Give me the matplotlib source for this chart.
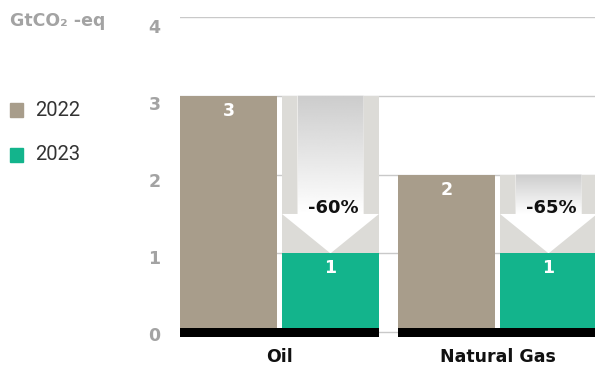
import numpy as np
import matplotlib.pyplot as plt
from matplotlib.patches import Polygon, Rectangle
from matplotlib.transforms import ScaledTranslation

plt.rcParams['font.family'] = ['DejaVu Sans']

categories = ['Oil', 'Natural Gas']
years = ['2022', '2023']
values_2022 = [3, 2]
values_2023 = [1, 1]
changes = ['-60%', '-65%']
yticks = [0, 1, 2, 3, 4]

tan = '#a89d8b'
green = '#13b48c'
shade = '#dcdbd7'

fig = plt.figure(figsize=(5.95, 3.65), dpi=100)
ax = fig.add_axes([180 / 595, 25 / 365, 415 / 595, 323 / 365])

x = np.arange(len(categories))
off, w = 0.234, 0.445

# gridlines
for t in yticks:
    ax.axhline(t, color='#c9c9c9', lw=1, zorder=0)

ax.bar(x - off, values_2022, w, color=tan, zorder=2)
ax.bar(x + off, np.array(values_2022) - np.array(values_2023), w,
       bottom=values_2023, color=shade, zorder=1)
ax.bar(x + off, values_2023, w, color=green, zorder=2)

# down arrows with grey-to-white gradient
grad = np.linspace(0.80, 1.0, 256)[:, None]
for cx, v0, v1, lab in zip(x + off, values_2022, values_2023, changes):
    sh, hh = 0.151, w / 2
    head_top = v1 + 0.5
    pts = [(cx - sh, v0), (cx + sh, v0), (cx + sh, head_top), (cx + hh, head_top),
           (cx, v1), (cx - hh, head_top), (cx - sh, head_top)]
    poly = Polygon(pts, closed=True, facecolor='white', edgecolor='none',
                   transform=ax.transData, zorder=1.5)
    ax.add_patch(poly)
    img = ax.imshow(grad[::-1], cmap='gray', vmin=0, vmax=1, aspect='auto',
                    extent=[cx - sh, cx + sh, head_top, v0], origin='lower',
                    interpolation='bilinear', zorder=1.6)
    img.set_clip_path(poly)
    ax.text(cx + 0.012, head_top + 0.075, lab, ha='center', va='center',
            fontsize=13, fontweight='bold', color='#111111', zorder=5)

# value labels
for xi, v in zip(x - off, values_2022):
    ax.text(xi, v - 0.19, str(v), ha='center', va='center', color='white',
            fontsize=12.5, fontweight='bold', zorder=5)
for xi, v in zip(x + off, values_2023):
    ax.text(xi, v - 0.19, str(v), ha='center', va='center', color='white',
            fontsize=12.5, fontweight='bold', zorder=5)

# black base under each group
ax.bar(x, 0.113, 2 * off + w, bottom=-0.063, color='black', zorder=3)

ax.set_xlim(-0.456, 1.447)
ax.set_ylim(-0.1, 4.0)
for s in ax.spines.values():
    s.set_visible(False)

ax.set_yticks(yticks)
ax.set_yticklabels([str(t) for t in yticks], fontsize=12.5, fontweight='bold',
                   color='#a3a3a3')
ax.tick_params(axis='y', length=0, pad=14)
for t, lbl in zip(yticks, ax.get_yticklabels()):
    dy = (2 + 1.75 * t) * 0.72  # px -> pt at 100 dpi
    lbl.set_transform(lbl.get_transform() + ScaledTranslation(0, -dy / 72, fig.dpi_scale_trans))

ax.set_xticks(x)
ax.set_xticklabels(categories, fontsize=12.5, fontweight='bold', color='#111111')
ax.tick_params(axis='x', length=0, pad=6)

# unit label and legend
fig.text(10 / 595, 1 - 21 / 365, 'GtCO\u2082 -eq', fontsize=12.5, fontweight='bold',
         color='#a3a3a3', va='center', ha='left')
for i, (yr, c) in enumerate(zip(years, [tan, green])):
    yc = 110 + 45 * i
    fig.patches.append(Rectangle((10 / 595, 1 - (yc + 7) / 365), 13 / 595, 14 / 365,
                                 transform=fig.transFigure, color=c))
    fig.text(35 / 595, 1 - yc / 365, yr, fontsize=14.5, color='#333333',
             va='center', ha='left', family=['Roboto', 'DejaVu Sans'])

fig.savefig('out.png', dpi=100)
